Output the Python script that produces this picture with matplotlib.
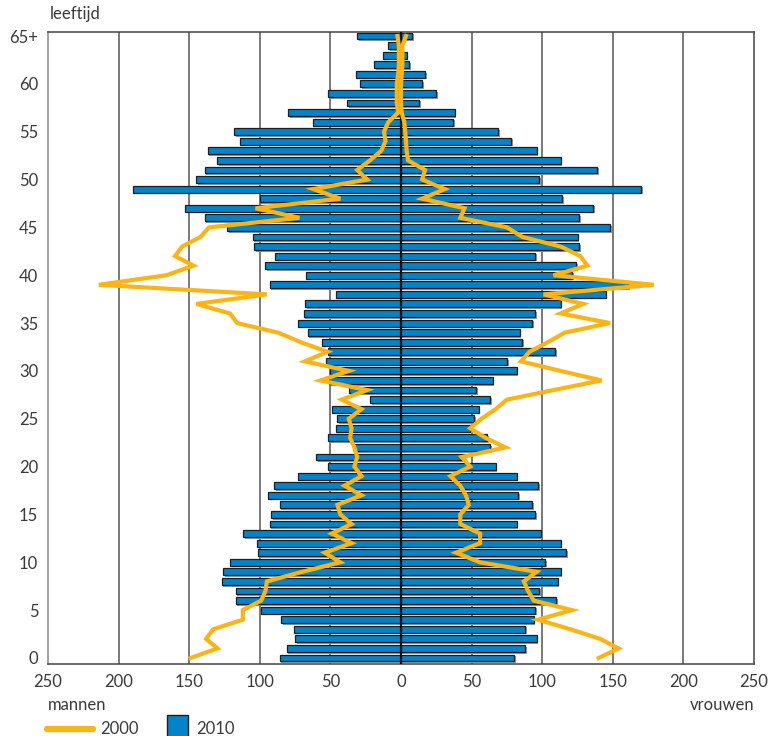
import matplotlib
matplotlib.use("Agg")
import matplotlib.pyplot as plt
import matplotlib.patheffects as pe
from matplotlib.lines import Line2D
from matplotlib.patches import Rectangle
import numpy as np

plt.rcParams['font.family'] = ['Lato', 'DejaVu Sans']

ages = np.arange(0, 66)

# 2010, ages 0..65+
men_2010 = [86, 81, 75, 76, 85, 99, 117, 117, 127, 126,
            121, 101, 102, 112, 93, 92, 86, 94, 90, 73,
            52, 60, 33, 52, 46, 45, 49, 22, 37, 51,
            50, 53, 52, 56, 66, 73, 69, 68, 46, 93,
            67, 96, 89, 104, 105, 123, 139, 153, 100, 190,
            145, 139, 130, 137, 114, 118, 62, 80, 38, 52,
            29, 32, 19, 13, 9, 31]
women_2010 = [80, 88, 96, 88, 94, 95, 110, 98, 111, 113,
              102, 117, 113, 99, 82, 95, 93, 83, 97, 82,
              67, 45, 63, 61, 49, 52, 55, 63, 53, 65,
              82, 75, 109, 86, 84, 93, 95, 113, 145, 161,
              121, 124, 95, 126, 125, 148, 126, 136, 114, 170,
              98, 139, 113, 96, 78, 69, 37, 38, 13, 25,
              15, 17, 6, 4, 1, 8]

# 2000, ages 0..65+
men_2000 = [149, 130, 138, 133, 112, 112, 99, 96, 95, 70,
            43, 54, 35, 49, 35, 43, 45, 28, 40, 28,
            33, 31, 33, 36, 35, 37, 28, 42, 24, 57,
            37, 68, 52, 71, 87, 116, 121, 145, 95, 214,
            166, 147, 160, 155, 142, 136, 72, 103, 43, 62,
            24, 31, 22, 14, 11, 12, 9, 2, 3, 3,
            3, 2, 1.5, 1.5, 1.5, 2.5]
women_2000 = [140, 154, 141, 120, 97, 121, 94, 90, 87, 96,
              56, 39, 56, 56, 42, 42, 48, 46, 42, 35,
              49, 43, 74, 60, 49, 57, 67, 75, 108, 142,
              113, 85, 91, 104, 116, 148, 113, 129, 101, 179,
              108, 132, 127, 113, 86, 75, 42, 45, 15, 31,
              15, 17, 5, 4, 3.5, 3, 2.3, 0.5, 0, 0,
              0, 0.5, 1, 1, 1, 3.5]

xticks = [-250, -200, -150, -100, -50, 0, 50, 100, 150, 200, 250]
yticks = [0, 5, 10, 15, 20, 25, 30, 35, 40, 45, 50, 55, 60, 65]
ytick_labels = ['0', '5', '10', '15', '20', '25', '30', '35', '40', '45',
                '50', '55', '60', '65+']

blue = '#0383c9'
yellow = '#fbb416'
txt = '#3a3a3a'

fig = plt.figure(figsize=(7.8, 7.36), dpi=100)
ax = fig.add_axes([48 / 780, 1 - 664 / 736, 706 / 780, 632 / 736])

for g in xticks[1:-1]:
    if g != 0:
        ax.axvline(g, color='#555555', lw=1.1, zorder=0)

shadow = [pe.SimplePatchShadow(offset=(1.2, -1.2), shadow_rgbFace='#9a9a9a', alpha=1.0), pe.Normal()]
ax.barh(ages, -np.array(men_2010), height=0.72, color=blue, edgecolor='#1e1e1e',
        linewidth=0.9, zorder=2, path_effects=shadow)
ax.barh(ages, women_2010, height=0.72, color=blue, edgecolor='#1e1e1e',
        linewidth=0.9, zorder=2, path_effects=shadow)

ax.axvline(0, color='#111111', lw=1.6, zorder=3)

ax.plot(-np.array(men_2000), ages, color=yellow, lw=3.0, solid_joinstyle='miter', zorder=4)
ax.plot(women_2000, ages, color=yellow, lw=3.0, solid_joinstyle='miter', zorder=4)

ax.set_xlim(-250, 250)
ax.set_ylim(-0.63, 65.42)
ax.set_xticks(xticks)
ax.set_xticklabels([str(abs(t)) for t in xticks])
ax.set_yticks(yticks)
ax.set_yticklabels(ytick_labels)
ax.tick_params(length=0, labelsize=12, colors=txt, pad=7)
for s in ax.spines.values():
    s.set_color('#444444')
    s.set_linewidth(1.1)
ax.spines['left'].set_color('#888888')

fig.text(50 / 780, 1 - 14 / 736, 'leeftijd', fontsize=12, color=txt, va='center')
fig.text(48 / 780, 1 - 705 / 736, 'mannen', fontsize=12, color=txt, va='center')
fig.text(754 / 780, 1 - 705 / 736, 'vrouwen', fontsize=12, color=txt, va='center', ha='right')

# legend
fig.add_artist(Line2D([47 / 780, 93 / 780], [1 - 729 / 736, 1 - 729 / 736], color=yellow,
                      lw=4.5, solid_capstyle='round', transform=fig.transFigure))
fig.text(100 / 780, 1 - 729 / 736, '2000', fontsize=12, color=txt, va='center')
fig.add_artist(Rectangle((167 / 780, 1 - 740 / 736), 21 / 780, 25 / 736, facecolor=blue,
                         edgecolor='#1e1e1e', lw=1, transform=fig.transFigure))
fig.text(196 / 780, 1 - 729 / 736, '2010', fontsize=12, color=txt, va='center')

fig.savefig('out.png', dpi=100)
